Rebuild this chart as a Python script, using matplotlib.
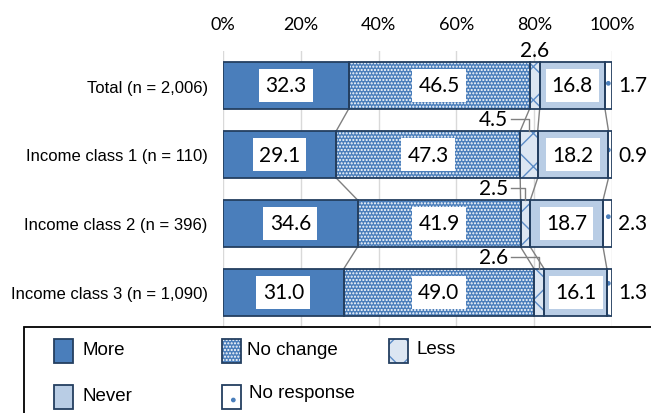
import matplotlib
matplotlib.use("Agg")
import matplotlib.pyplot as plt
from matplotlib.patches import Rectangle
import numpy as np

# ---- data -------------------------------------------------------------
categories = ["Total (n = 2,006)", "Income class 1 (n = 110)",
              "Income class 2 (n = 396)", "Income class 3 (n = 1,090)"]
series_names = ["More", "No change", "Less", "Never", "No response"]
more = [32.3, 29.1, 34.6, 31.0]
no_change = [46.5, 47.3, 41.9, 49.0]
less = [2.6, 4.5, 2.5, 2.6]
never = [16.8, 18.2, 18.7, 16.1]
no_response = [1.7, 0.9, 2.3, 1.3]
x_ticks = [0, 20, 40, 60, 80, 100]
x_tick_labels = ["0%", "20%", "40%", "60%", "80%", "100%"]

# ---- styles -----------------------------------------------------------
faces = ["#4A7EBB", "#4A7EBB", "#DCE6F2", "#B9CDE5", "#FFFFFF"]
hatches = [None, ".....", "x", None, "."]
hatch_cols = ["none", "#FFFFFF", "#5B8BC6", "none", "#4A7EBB"]
edge = "#243F60"
num_font = ["Lato", "DejaVu Sans"]
cat_font = ["Liberation Sans", "DejaVu Sans"]
leg_font = ["Liberation Sans", "DejaVu Sans"]
plt.rcParams["hatch.linewidth"] = 1.0

W, H = 651, 414
fig = plt.figure(figsize=(W / 100, H / 100), dpi=100)
ax = fig.add_axes([223 / W, 1 - 328 / H, (612 - 223) / W, (328 - 52) / H])

values = np.array([more, no_change, less, never, no_response])
y = np.arange(len(categories))
bar_h = 0.68
lefts = np.vstack([np.zeros(len(categories)), np.cumsum(values, axis=0)[:-1]])
cums = np.cumsum(values, axis=0)

for k in range(len(series_names)):
    ax.barh(y, values[k], left=lefts[k], height=bar_h, color=faces[k],
            edgecolor=hatch_cols[k], hatch=hatches[k], linewidth=0, zorder=2)
    ax.barh(y, values[k], left=lefts[k], height=bar_h, fill=False,
            edgecolor=edge, linewidth=1.3, zorder=3)

# series lines joining segment boundaries of neighbouring bars
for k in range(len(series_names) - 1):
    for i in range(len(categories) - 1):
        ax.plot([cums[k, i], cums[k, i + 1]],
                [y[i] + bar_h / 2, y[i + 1] - bar_h / 2],
                color="#808080", lw=1.0, zorder=1.5, solid_capstyle="butt")

# value labels inside the larger segments
box = dict(boxstyle="square,pad=0.3", fc="white", ec="none")
for k in (0, 1, 3):
    for i in range(len(categories)):
        ax.text(lefts[k, i] + values[k, i] / 2, y[i], f"{values[k, i]:.1f}",
                ha="center", va="center", fontsize=15, family=num_font,
                bbox=box, zorder=5)

# "Less" labels above the bars
for i in range(len(categories)):
    segc = lefts[2, i] + values[2, i] / 2
    top = y[i] - bar_h / 2
    ty = top - 0.17
    if i == 0:
        ax.text(segc, ty, f"{values[2, i]:.1f}", ha="center", va="center",
                fontsize=15, family=num_font, zorder=5)
    else:
        ax.text(69.5, ty, f"{values[2, i]:.1f}", ha="center", va="center",
                fontsize=15, family=num_font, zorder=5)
        ax.plot([74.0, segc, segc], [ty, ty, top], color="#808080",
                lw=1.0, zorder=4)

# "No response" labels to the right
for i in range(len(categories)):
    ax.annotate(f"{values[4, i]:.1f}", xy=(100, y[i]), xytext=(4.5, 0),
                textcoords="offset points", ha="left", va="center",
                fontsize=15, family=num_font, annotation_clip=False)

ax.set_xlim(0, 100)
ax.set_ylim(len(categories) - 0.5, -0.5)
ax.set_xticks(x_ticks, x_tick_labels)
ax.set_yticks(y, categories)
ax.xaxis.tick_top()
ax.tick_params(axis="x", length=0, pad=14, labelsize=13)
ax.tick_params(axis="y", length=0, pad=11, labelsize=12)
for lab in ax.get_xticklabels():
    lab.set_family(num_font)
for lab in ax.get_yticklabels():
    lab.set_family(cat_font)
ax.grid(axis="x", color="#D9D9D9", lw=1.0)
ax.set_axisbelow(True)
for s in ax.spines.values():
    s.set_visible(False)

# ---- legend ------------------------------------------------------------
def fx(px):
    return px / W


def fy(py):
    return 1 - py / H


fig.patches.append(Rectangle((fx(24), fy(430)), 1.0, fy(328) - fy(430),
                             transform=fig.transFigure, fill=False,
                             ec="black", lw=1.3, zorder=1))

entries = [
    (0, 54, 340, 82, 351),
    (1, 222, 340, 247, 351),
    (2, 389, 340, 416, 350),
    (3, 54, 386, 83, 397),
    (4, 222, 386, 249, 394),
]
for k, px, py, tx, ty in entries:
    w, h = 19, 24
    fig.patches.append(Rectangle((fx(px), fy(py + h)), w / W, h / H,
                                 transform=fig.transFigure, fc=faces[k],
                                 ec=hatch_cols[k], hatch=hatches[k], lw=0,
                                 zorder=2))
    fig.patches.append(Rectangle((fx(px), fy(py + h)), w / W, h / H,
                                 transform=fig.transFigure, fill=False,
                                 ec=edge, lw=1.3, zorder=3))
    fig.text(fx(tx), fy(ty), series_names[k], ha="left", va="center",
             fontsize=13.5, family=leg_font)

fig.savefig("out.png", dpi=100)
